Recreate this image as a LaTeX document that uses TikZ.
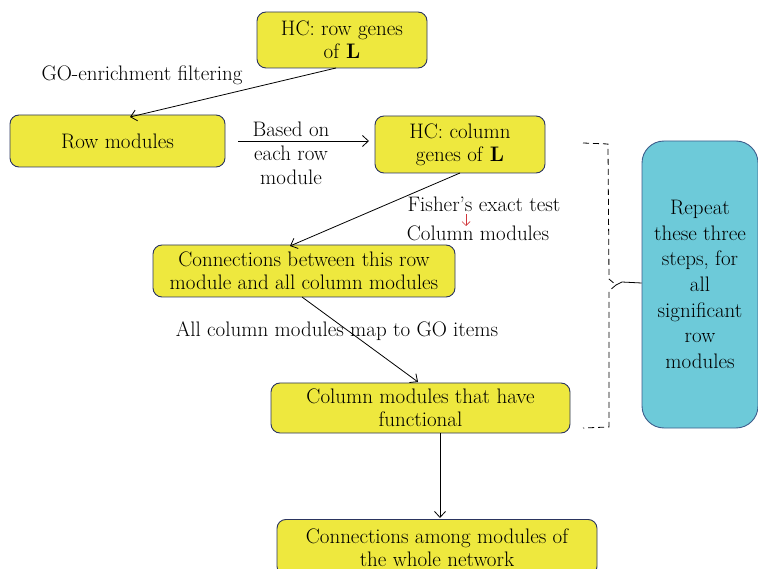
\documentclass[tikz,border=0pt]{standalone}
\usetikzlibrary{arrows.meta}
\definecolor{boxyellow}{HTML}{EEE83E}
\definecolor{boxedge}{HTML}{2B3560}
\definecolor{boxcyan}{HTML}{6DCAD9}
\definecolor{cyanedge}{HTML}{3E5E8C}
\definecolor{tipred}{HTML}{D0363A}
\tikzset{
  stepbox/.style={draw=boxedge, fill=boxyellow, rounded corners=9pt, line width=0.9pt,
    align=center, inner sep=0pt, font=\fontsize{21}{23}\selectfont},
  notebox/.style={draw=cyanedge, fill=boxcyan, rounded corners=22pt, line width=0.9pt,
    align=center, inner sep=0pt, font=\fontsize{21}{25.6}\selectfont},
  lbl/.style={align=center, inner sep=0pt, font=\fontsize{21}{24}\selectfont},
  flow/.style={draw=black, line width=0.8pt, -{Straight Barb[length=6pt,width=11pt]}},
  bracket/.style={draw=black, line width=0.8pt, dash pattern=on 6pt off 4pt}
}
\begin{document}
\begin{tikzpicture}[x=1pt,y=-1pt]
\useasboundingbox (0,0) rectangle (758,569);
% process steps
\node[stepbox, minimum width=170pt, minimum height=56pt] (hcrow) at (342,40) {HC: row genes\\of \textbf{L}};
\node[stepbox, minimum width=215pt, minimum height=52pt] (rowmod) at (117.5,141) {Row modules};
\node[stepbox, minimum width=170pt, minimum height=57pt] (hccol) at (460,144.5) {HC: column\\genes of \textbf{L}};
\node[stepbox, minimum width=302pt, minimum height=52pt] (conn) at (304,271) {Connections between this row\\module and all column modules};
\node[stepbox, minimum width=299pt, minimum height=50pt] (colfun) at (420.5,408) {Column modules that have\\functional};
\node[stepbox, minimum width=320pt, minimum height=56pt, anchor=north] (whole) at (437,519) {Connections among modules of\\the whole network};
% side note
\node[notebox, minimum width=116pt, minimum height=287pt] (repeat) at (700,284.5) {Repeat\\these three\\steps, for\\all\\significant\\row\\modules};
% connectors
\coordinate (a1) at (336,68);
\coordinate (a2) at (130,117);
\draw[flow] (a1) -- (a2);
\node[lbl] (golbl) at (142,75) {GO-enrichment filtering};
\coordinate (b1) at (238,141);
\coordinate (b2) at (369,141);
\draw[flow] (b1) -- (b2);
\node[lbl] (basedlbl) at (291,153) {Based on\\each row\\module};
\coordinate (c1) at (460,173);
\coordinate (c2) at (290,246);
\draw[flow] (c1) -- (c2);
\node[lbl] (fisher) at (484,204) {Fisher's exact test};
\node[lbl] (colmods) at (478,233) {Column modules};
\coordinate (r1) at (466,214);
\coordinate (r2) at (466,226);
\draw[draw=tipred, line width=0.7pt, -{Straight Barb[length=4pt,width=8pt]}] (r1) -- (r2);
\coordinate (d1) at (302,297);
\coordinate (d2) at (418,382);
\node[lbl] (maplbl) at (337,331) {All column modules map to GO items};
\draw[flow] (d1) -- (d2);
\coordinate (e1) at (440,433);
\coordinate (e2) at (440,518);
\draw[flow] (e1) -- (e2);
% bracket grouping the three repeated steps
\coordinate (k1) at (583,143);
\coordinate (k2) at (583,428);
\draw[bracket] (k1) -- (608,144) -- (609,279) -- (616,285);
\draw[bracket] (616,285) -- (609,291) -- (609,427) -- (k2);
\draw[draw=black, line width=0.8pt] (616,285) -- (622,282) -- (repeat.west |- 0,283);
\end{tikzpicture}
\end{document}
